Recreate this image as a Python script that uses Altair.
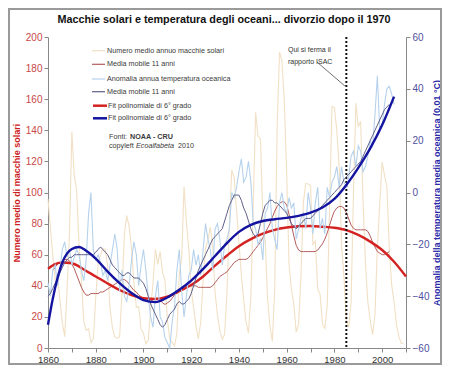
import altair as alt
import pandas as pd

# ---------------- data ----------------
sun_years = list(range(1860, 2010))
sunspots = [
    95.8, 77.2, 59.1, 44.0, 47.0, 30.5, 16.3, 7.3, 37.6, 74.0,
    139.0, 111.2, 101.6, 66.2, 44.7, 17.0, 11.3, 12.4, 3.4, 6.0,
    32.3, 54.3, 59.7, 63.7, 63.5, 52.2, 25.4, 13.1, 6.8, 6.3,
    7.1, 35.6, 73.0, 85.1, 78.0, 64.0, 41.8, 26.2, 26.7, 12.1,
    9.5, 2.7, 5.0, 24.4, 42.0, 63.5, 53.8, 62.0, 48.5, 43.9,
    18.6, 5.7, 3.6, 1.4, 9.6, 47.4, 57.1, 103.9, 80.6, 63.6,
    37.6, 26.1, 14.2, 5.8, 16.7, 44.3, 63.9, 69.0, 77.8, 64.9,
    35.7, 21.2, 11.1, 5.7, 8.7, 36.1, 79.7, 114.4, 109.6, 88.8,
    67.8, 47.5, 30.6, 16.3, 9.6, 33.2, 92.6, 151.6, 136.3, 134.7,
    83.9, 69.4, 31.5, 13.9, 4.4, 38.0, 141.7, 190.2, 184.8, 159.0,
    112.3, 53.9, 37.6, 27.9, 10.2, 15.1, 47.0, 93.8, 105.9, 105.5,
    104.5, 66.6, 68.9, 38.0, 34.5, 15.5, 12.6, 27.5, 92.5, 155.4,
    154.6, 140.4, 115.9, 66.6, 45.9, 17.9, 13.4, 29.4, 100.2, 157.6,
    142.6, 145.7, 94.3, 54.6, 29.9, 17.5, 8.6, 21.5, 64.3, 93.3,
    119.6, 111.0, 104.0, 63.7, 40.4, 29.8, 15.2, 7.5, 2.9, 3.1,
]

sun_ma_years = list(range(1862, 2004))
sun_ma = [
    50, 52, 54, 55, 56, 57, 57, 56,
    54, 51, 47, 43, 39, 36, 34, 34, 35, 35,
    35, 35, 36, 36, 37, 38, 39, 40, 41, 42,
    43, 44, 44, 43, 41, 39, 37, 36, 34, 33,
    32, 31, 30, 30, 31, 32, 32, 31, 29, 28,
    29, 30, 32, 34, 36, 37, 38, 39, 40, 40,
    40, 40, 40, 39, 39, 39, 39, 39, 39, 40,
    42, 44, 46, 47, 48, 49, 51, 53, 55, 56,
    57, 57, 57, 57, 58, 60, 62, 64, 66, 68,
    71, 74, 77, 80, 84, 88, 91, 93, 94, 94,
    92, 86, 79, 72, 66, 63, 62, 62, 62, 62,
    62, 62, 62, 63, 65, 67, 70, 74, 79, 84,
    88, 90, 91, 91, 90, 87, 83, 79, 77, 76,
    76, 76, 76, 76, 75, 72, 68, 65, 62, 61,
    60, 60, 61, 62,
]

ocean_years = list(range(1860, 2006))
ocean = [
    -35, -40, -30, -28, -36, -30, -22, -19, -25, -22,
    -28, -25, -22, -24, -30, -34, -26, -8, 0, -22,
    -26, -24, -27, -32, -30, -34, -28, -22, -16, -22,
    -38, -30, -40, -42, -36, -26, -19, -24, -36, -28,
    -22, -30, -40, -48, -52, -40, -34, -48, -50, -56,
    -58, -60, -50, -44, -30, -22, -38, -48, -40, -32,
    -30, -22, -28, -24, -32, -22, -12, -18, -22, -30,
    -14, -12, -18, -28, -20, -18, -14, 0, -2, 2,
    8, 13, 4, 6, 12, 4, -12, -14, -20, -18,
    -26, -8, -6, 0, -14, -18, -22, -4, 0, -6,
    -8, -2, -6, -4, -18, -14, -10, -8, -14, 0,
    -6, -16, -4, 2, -14, -10, -16, 2, -2, 4,
    6, 10, 2, 10, 4, 2, 6, 14, 16, 10,
    18, 16, 8, 10, 14, 20, 18, 30, 45, 24,
    26, 34, 40, 41, 38, 34,
]

ocean_ma_years = list(range(1860, 2004))
ocean_ma = [
    -40, -39, -37, -35, -33, -31, -29, -27, -26, -25,
    -25, -24, -24, -24, -24, -24, -24, -24, -24, -24,
    -23, -22, -21, -22, -23, -24, -26, -28, -29, -30,
    -31, -32, -32, -31, -31, -32, -33, -33, -33, -34,
    -35, -37, -40, -43, -45, -47, -49, -51, -52, -51,
    -49, -47, -46, -45, -43, -42, -43, -43, -42, -41,
    -39, -36, -33, -30, -28, -26, -24, -22, -20, -18,
    -17, -16, -15, -14, -11, -8, -5, -3, -1, -1,
    -1, -3, -6, -8, -11, -14, -16, -17, -16, -12,
    -8, -5, -4, -3, -3, -4, -4, -5, -6, -7,
    -8, -10, -12, -13, -14, -13, -12, -11, -10, -10,
    -10, -9, -8, -7, -6, -5, -4, -3, -2, -1,
    0, 1, 2, 3, 5, 6, 7, 8, 9, 10,
    11, 12, 14, 16, 18, 20, 22, 24, 26, 28,
    30, 32, 33, 34,
]

red_fit_years = [1860, 1863, 1866, 1870, 1875, 1880, 1885, 1890, 1895, 1900,
                 1905, 1910, 1915, 1920, 1925, 1930, 1935, 1940, 1945, 1950,
                 1955, 1960, 1965, 1970, 1975, 1980, 1985, 1990, 1995, 2000,
                 2005, 2010]
red_fit = [51, 54, 55, 54.5, 50.5, 46, 41.5, 37.3, 34, 32,
           31.5, 33, 36.5, 40.5, 46, 53, 59.5, 65.5, 70, 73.5,
           76, 77.5, 78.3, 78.5, 78, 77.3, 75.8, 72.7, 68.4, 63,
           55.5, 46]

blue_fit_years = [1860, 1862, 1864, 1866, 1868, 1870, 1873, 1876, 1880, 1885,
                  1890, 1895, 1900, 1905, 1910, 1915, 1920, 1925, 1930, 1935,
                  1940, 1945, 1950, 1955, 1960, 1965, 1970, 1975, 1980, 1985,
                  1990, 1995, 2000, 2005]
blue_fit = [-51, -41, -33, -27, -23.5, -21.8, -21, -22.5, -25.5, -30.5,
            -35, -38.8, -41.5, -42.3, -40.5, -37.5, -34, -29.5, -24.5, -19.5,
            -15.2, -12.5, -11, -10.3, -9.8, -9, -7.8, -5.8, -2.5, 2.9,
            9.5, 17, 26, 37]

x_ticks = list(range(1860, 2011, 10))
left_ticks = list(range(0, 201, 20))
right_ticks = list(range(-60, 61, 20))

legend_labels = [
    "Numero medio annuo macchie solari",
    "Media mobile 11 anni",
    "Anomalia annua temperatura oceanica",
    "Media mobile 11 anni",
    "Fit polinomiale di 6° grado",
    "Fit polinomiale di 6° grado",
]

# ---------------- styles ----------------
FONT = "Liberation Sans"
C_SUN = "#f1e0c4"
C_SUN_MA = "#b45c5c"
C_OCEAN = "#b6d2ec"
C_OCEAN_MA = "#60608a"
C_RED = "#d42222"
C_BLUE = "#1414a0"
legend_colors = [C_SUN, C_SUN_MA, C_OCEAN, C_OCEAN_MA, C_RED, C_BLUE]
legend_widths = [1.2, 1.2, 1.2, 1.2, 2.5, 2.5]
legend_y = [13.7, 27.3, 42, 54.7, 68.7, 81.3]

W, H = 358, 311

x_scale = alt.Scale(domain=[1860, 2010], nice=False, zero=False)
x_axis = alt.Axis(values=x_ticks, format="d",
                  labelExpr="datum.value % 20 == 0 ? datum.label : ''",
                  labelFontSize=9.5, labelColor="#333333", labelFont=FONT,
                  domainColor="#888888", tickColor="#888888", tickSize=4,
                  grid=False, labelOverlap=False, labelFlush=False, title=None)
X = alt.X("year:Q", scale=x_scale, axis=x_axis)

left_scale = alt.Scale(domain=[0, 200], nice=False, zero=False)
left_axis = alt.Axis(values=left_ticks, orient="left", grid=False,
                     labelFontSize=10, labelColor="#c84848", labelFont=FONT,
                     domainColor="#888888", tickColor="#888888", tickSize=4,
                     title="Numero medio di macchie solari",
                     titleFont=FONT, titleFontSize=9, titleFontWeight="bold",
                     titleColor="#cc2020", titleAngle=270, titleX=-32,
                     titleY=H / 2, titleBaseline="middle", titleAlign="center")
YL = alt.Y("v:Q", scale=left_scale, axis=left_axis)

right_scale = alt.Scale(domain=[-60, 60], nice=False, zero=False)
right_axis = alt.Axis(values=right_ticks, orient="right", grid=False,
                      labelFontSize=10, labelColor="#5050a0", labelFont=FONT,
                      domainColor="#888888", tickColor="#888888", tickSize=4,
                      title="Anomalia della temperatura media oceanica (0,01 °C)",
                      titleFont=FONT, titleFontSize=9, titleFontWeight="bold",
                      titleColor="#2a2aa8", titleAngle=270, titleX=30,
                      titleY=H / 2, titleBaseline="middle", titleAlign="center")
YR = alt.Y("v:Q", scale=right_scale, axis=right_axis)


def line(years, vals, y_enc, color, width, interp="linear"):
    df = pd.DataFrame({"year": years, "v": vals})
    return alt.Chart(df).mark_line(color=color, strokeWidth=width,
                                   interpolate=interp).encode(x=X, y=y_enc)


# ---------------- left (sunspots) layers ----------------
sun_line = line(sun_years, sunspots, YL, C_SUN, 1.1)
sun_ma_line = line(sun_ma_years, sun_ma, YL, C_SUN_MA, 1.0)
red_line = line(red_fit_years, red_fit, YL, C_RED, 2.4, "monotone")

# vertical dotted line at 1985
vline = alt.Chart(pd.DataFrame({"year": [1985]})).mark_rule(
    color="#111111", strokeWidth=2, strokeDash=[2, 2]
).encode(x=X)

# leader line of the note
leader_df = pd.DataFrame({"year": [1972.7], "year2": [1984.4],
                          "v": [183.9], "v2": [168.5]})
leader = alt.Chart(leader_df).mark_rule(color="#333333", strokeWidth=0.7).encode(
    x=X, x2="year2:Q", y=YL, y2="v2:Q")

note = alt.Chart(pd.DataFrame({"t": ["Qui si ferma il\nrapporto ISAC"]})).mark_text(
    align="left", baseline="middle", font=FONT, fontSize=7, color="#333333",
    lineBreak="\n", lineHeight=12
).encode(x=alt.value(240), y=alt.value(13), text="t:N")

# legend
leg_df = pd.DataFrame({"label": legend_labels, "color": legend_colors,
                       "w": legend_widths, "y": legend_y,
                       "x1": [44, 44, 44, 44, 45, 45],
                       "x2": [57, 57, 57, 57, 59, 59],
                       "tx": [59, 59, 59, 59, 60, 60]})
leg_layers = []
for _, r in leg_df.iterrows():
    d = pd.DataFrame({"label": [r["label"]]})
    leg_layers.append(alt.Chart(d).mark_rule(color=r["color"], strokeWidth=r["w"]).encode(
        x=alt.value(r["x1"]), x2=alt.value(r["x2"]), y=alt.value(r["y"])))
    leg_layers.append(alt.Chart(d).mark_text(
        align="left", baseline="middle", font=FONT, fontSize=7.2, color="#3a3a3a"
    ).encode(x=alt.value(r["tx"]), y=alt.value(r["y"]), text="label:N"))


def txt(s, x, y, weight="normal", style="normal"):
    return alt.Chart(pd.DataFrame({"t": [s]})).mark_text(
        align="left", baseline="middle", font=FONT, fontSize=7.2, color="#3a3a3a",
        fontWeight=weight, fontStyle=style
    ).encode(x=alt.value(x), y=alt.value(y), text="t:N")


sources = [
    txt("Fonti:", 61, 100),
    txt("NOAA - CRU", 82, 100, weight="bold"),
    txt("copyleft", 61, 109),
    txt("Ecoalfabeta", 88, 109, style="italic"),
    txt("2010", 130, 109),
]

title = alt.Chart(pd.DataFrame({"t": ["Macchie solari e temperatura degli oceani... divorzio dopo il 1970"]})).mark_text(
    align="center", baseline="middle", font=FONT, fontSize=10.8, fontWeight="bold",
    color="#111111"
).encode(x=alt.value(176), y=alt.value(-17), text="t:N")

frame = alt.Chart(pd.DataFrame({"a": [0]})).mark_rect(
    fill="white", fillOpacity=0, stroke="#9a9a9a", strokeWidth=2
).encode(x=alt.value(-39), x2=alt.value(393), y=alt.value(-28), y2=alt.value(327))

left = alt.layer(sun_line, sun_ma_line, red_line, vline, leader, note,
                 *leg_layers, *sources, title, frame)

# ---------------- right (ocean) layers ----------------
ocean_line = line(ocean_years, ocean, YR, C_OCEAN, 1.1)
ocean_ma_line = line(ocean_ma_years, ocean_ma, YR, C_OCEAN_MA, 1.0)
blue_line = line(blue_fit_years, blue_fit, YR, C_BLUE, 2.4, "monotone")
right = alt.layer(ocean_line, ocean_ma_line, blue_line)

chart = alt.layer(left, right).resolve_scale(y="independent").properties(
    width=W, height=H,
    autosize=alt.AutoSizeParams(type="none"),
    padding={"left": 40, "top": 29, "right": 36, "bottom": 18},
    background="white",
).configure_view(stroke=None)

chart.save("out.html", embed_options={"renderer": "svg", "actions": False})
